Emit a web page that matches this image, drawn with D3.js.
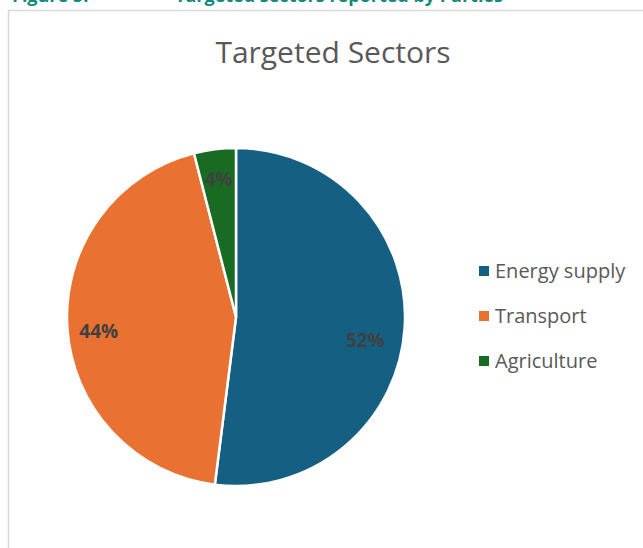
<!DOCTYPE html>
<html>
<head>
<meta charset="utf-8">
<script src="https://cdn.jsdelivr.net/npm/d3@7"></script>
<style>
  body{margin:0;background:#fff}
  svg{display:block}
</style>
</head>
<body>
<svg id="chart" width="643" height="548"></svg>
<script>
// data
const sectors = ['Energy supply', 'Transport', 'Agriculture']
const shares = [52, 44, 4]
const colors = ['#156082', '#E97132', '#196B24']
const chartTitle = 'Targeted Sectors'
const captionParts = ['Figure 5:', 'Targeted sectors reported by Parties']

const svg = d3.select('#chart')
const font = '"Open Sans", "Noto Sans", sans-serif'

// caption, mostly cut off at the top of the page
svg.append('g')
  .selectAll('text')
  .data(captionParts)
  .enter()
  .append('text')
  .attr('x', (d, i) => i === 0 ? 12 : 175)
  .attr('y', 2)
  .attr('font-family', font)
  .attr('font-weight', 'bold')
  .attr('font-size', 18)
  .attr('fill', '#0E8A7E')
  .text(d => d)

// chart frame
svg.append('rect')
  .attr('x', 8.5)
  .attr('y', 10.5)
  .attr('width', 700)
  .attr('height', 600)
  .attr('fill', '#fff')
  .attr('stroke', '#d9d9d9')
  .attr('stroke-width', 1.5)

svg.append('text')
  .attr('x', 333)
  .attr('y', 63)
  .attr('text-anchor', 'middle')
  .attr('font-family', font)
  .attr('font-size', 30)
  .attr('fill', '#595959')
  .text(chartTitle)

const cx = 236, cy = 317, radius = 169
const pie = d3.pie().sort(null).value(d => d)
const arcs = pie(shares)
const arc = d3.arc().innerRadius(0).outerRadius(radius)
const labelArc = d3.arc().innerRadius(radius * 0.82).outerRadius(radius * 0.82)

const g = svg.append('g').attr('transform', `translate(${cx},${cy})`)

g.selectAll('path')
  .data(arcs)
  .enter()
  .append('path')
  .attr('d', arc)
  .attr('fill', (d, i) => colors[i])
  .attr('stroke', '#fff')
  .attr('stroke-width', 2.5)
  .attr('stroke-linejoin', 'round')

g.selectAll('text.lbl')
  .data(arcs)
  .enter()
  .append('text')
  .attr('class', 'lbl')
  .attr('transform', (d, i) => {
    let [x, y] = labelArc.centroid(d)
    if (i === 0) { x -= 9; y += 14 }   // Excel best-fit nudges
    if (i === 1) { x += 1; y += 5 }
    return `translate(${x},${y})`
  })
  .attr('text-anchor', 'middle')
  .attr('dy', '0.36em')
  .attr('font-family', font)
  .attr('font-weight', 'bold')
  .attr('font-size', 19)
  .attr('fill', '#404040')
  .text(d => d.data + '%')

// legend
const legend = svg.append('g')
  .selectAll('g')
  .data(sectors)
  .enter()
  .append('g')
  .attr('transform', (d, i) => `translate(479,${271 + i * 45})`)

legend.append('rect')
  .attr('x', 0)
  .attr('y', -5)
  .attr('width', 10)
  .attr('height', 10)
  .attr('fill', (d, i) => colors[i])

legend.append('text')
  .attr('x', 16)
  .attr('dy', '0.36em')
  .attr('font-family', font)
  .attr('font-size', 20)
  .attr('fill', '#595959')
  .text(d => d)
</script>
</body>
</html>
